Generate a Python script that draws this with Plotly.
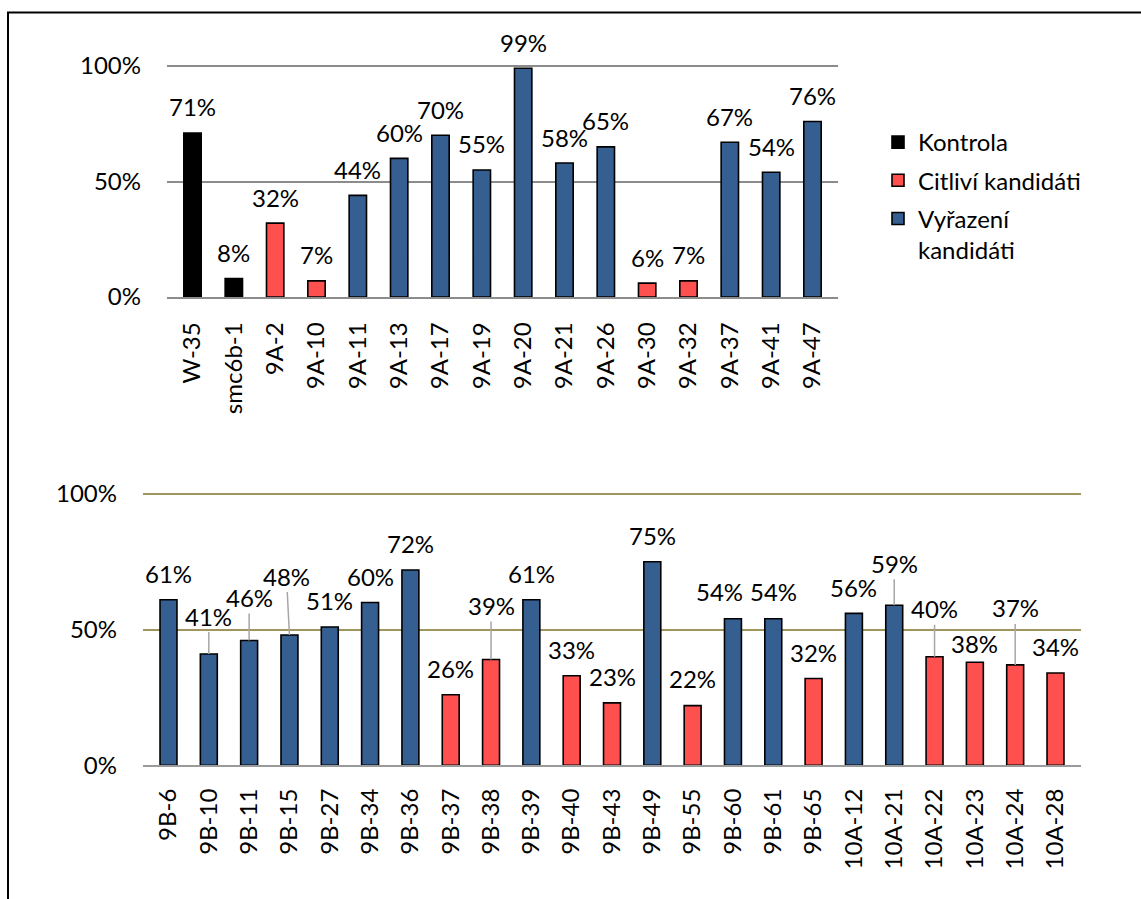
import plotly.graph_objects as go

# ---------------- data ----------------
top_categories = ["W-35", "smc6b-1", "9A-2", "9A-10", "9A-11", "9A-13", "9A-17", "9A-19",
                  "9A-20", "9A-21", "9A-26", "9A-30", "9A-32", "9A-37", "9A-41", "9A-47"]
top_values = [71, 8, 32, 7, 44, 60, 70, 55, 99, 58, 65, 6, 7, 67, 54, 76]
top_groups = ["K", "K", "C", "C", "V", "V", "V", "V", "V", "V", "V", "C", "C", "V", "V", "V"]

bottom_categories = ["9B-6", "9B-10", "9B-11", "9B-15", "9B-27", "9B-34", "9B-36", "9B-37",
                     "9B-38", "9B-39", "9B-40", "9B-43", "9B-49", "9B-55", "9B-60", "9B-61",
                     "9B-65", "10A-12", "10A-21", "10A-22", "10A-23", "10A-24", "10A-28"]
bottom_values = [61, 41, 46, 48, 51, 60, 72, 26, 39, 61, 33, 23, 75, 22, 54, 54, 32, 56, 59,
                 40, 38, 37, 34]
bottom_groups = ["V", "V", "V", "V", "V", "V", "V", "C", "C", "V", "C", "C", "V", "C", "V", "V",
                 "C", "V", "V", "C", "C", "C", "C"]

y_ticks = [0, 0.5, 1]
group_names = {"K": "Kontrola", "C": "Citliví kandidáti", "V": "Vyřazení<br>kandidáti"}

# ---------------- styles ----------------
W, H = 1141, 899
FONT = "Lato, 'Open Sans', sans-serif"
FS = 24
colors = {"K": "#000000", "C": "#FF5050", "V": "#365F91"}
RMAX = 1.02  # small headroom so the 100 % gridline is drawn

# label placement tweaks (pixels above bar top, optional x shift, leader line)
default_off = 26
bottom_label_style = {
    "9B-10": dict(off=38, leader=True),
    "9B-11": dict(off=43, leader=True),
    "9B-15": dict(off=59, leader=True, dx=-3),
    "9B-38": dict(off=54, leader=True),
    "9B-55": dict(off=27),
    "9B-60": dict(off=27, dx=-13),
    "9B-61": dict(off=27),
    "10A-21": dict(off=42, leader=True),
    "10A-22": dict(off=48, leader=True),
    "10A-23": dict(off=19),
    "10A-24": dict(off=57, leader=True),
    "10A-28": dict(off=27),
}


def px_x(p):
    return p / W


def px_y(p):
    return 1 - p / H


def y_domain(px_zero, px_full):
    top_px = px_zero - (px_zero - px_full) * RMAX
    return [px_y(px_zero), px_y(top_px)]


fig = go.Figure()

for key in ["K", "C", "V"]:
    xs = [c for c, g in zip(top_categories, top_groups) if g == key]
    ys = [v / 100 for v, g in zip(top_values, top_groups) if g == key]
    fig.add_trace(go.Bar(x=xs, y=ys, name=group_names[key], legendgroup=key,
                         marker=dict(color=colors[key], line=dict(color="#000000", width=1.6)),
                         xaxis="x", yaxis="y", hoverinfo="skip"))
for key in ["C", "V"]:
    xs = [c for c, g in zip(bottom_categories, bottom_groups) if g == key]
    ys = [v / 100 for v, g in zip(bottom_values, bottom_groups) if g == key]
    fig.add_trace(go.Bar(x=xs, y=ys, name=group_names[key], legendgroup=key, showlegend=False,
                         marker=dict(color=colors[key], line=dict(color="#000000", width=1.6)),
                         xaxis="x2", yaxis="y2", hoverinfo="skip"))

label_font = dict(family=FONT, size=FS, color="#000")
annotations = []
for c, v in zip(top_categories, top_values):
    annotations.append(dict(x=c, y=v / 100, xref="x", yref="y", text=f"{v}%",
                            showarrow=False, yshift=default_off, yanchor="middle",
                            font=label_font))
for c, v in zip(bottom_categories, bottom_values):
    st = bottom_label_style.get(c, {})
    off = st.get("off", default_off)
    dx = st.get("dx", 0)
    if st.get("leader"):
        annotations.append(dict(x=c, y=v / 100, xref="x2", yref="y2", text=f"{v}%",
                                showarrow=True, arrowhead=0, arrowwidth=1.5,
                                arrowcolor="#A6A6A6", ax=dx, ay=-off, standoff=0,
                                startstandoff=0, borderpad=1, font=label_font))
    else:
        annotations.append(dict(x=c, y=v / 100, xref="x2", yref="y2", text=f"{v}%",
                                showarrow=False, yshift=off, xshift=dx, yanchor="middle",
                                font=label_font))

axis_font = dict(family=FONT, size=FS, color="#000")

fig.update_layout(
    width=W, height=H,
    margin=dict(l=0, r=0, t=0, b=0, autoexpand=False),
    paper_bgcolor="white", plot_bgcolor="white",
    barmode="overlay", bargap=0.58,
    font=dict(family=FONT, size=FS, color="#000"),
    showlegend=True,
    legend=dict(x=px_x(878), y=px_y(120), xanchor="left", yanchor="top",
                font=dict(family=FONT, size=FS, color="#000"), valign="top",
                tracegroupgap=4, bgcolor="rgba(0,0,0,0)"),
    xaxis=dict(domain=[px_x(167), px_x(838)], anchor="y", type="category",
               categoryorder="array", categoryarray=top_categories, automargin=False,
               tickangle=-90, tickfont=axis_font, showline=True, linecolor="#8C8C8C",
               linewidth=1.5, ticks="", showgrid=False, ticklabelstandoff=14),
    yaxis=dict(domain=y_domain(297, 66), anchor="x", range=[0, RMAX], automargin=False,
               tickvals=y_ticks, tickformat=".0%", tickfont=axis_font,
               showgrid=True, gridcolor="#8C8C8C", gridwidth=1.5, zeroline=False,
               showline=False, ticks="", ticklabelstandoff=25),
    xaxis2=dict(domain=[px_x(143), px_x(1081)], anchor="y2", type="category",
                categoryorder="array", categoryarray=bottom_categories, automargin=False,
                tickangle=-90, tickfont=axis_font, showline=True, linecolor="#9A9A9A",
                linewidth=1.5, ticks="", showgrid=False, ticklabelstandoff=12),
    yaxis2=dict(domain=y_domain(765.3, 494), anchor="x2", range=[0, RMAX],
                automargin=False,
                tickvals=y_ticks, tickformat=".0%", tickfont=axis_font,
                showgrid=True, gridcolor="#A0955C", gridwidth=1.5, zeroline=False,
                showline=False, ticks="", ticklabelstandoff=25),
    annotations=annotations,
    shapes=[
        dict(type="line", xref="paper", yref="paper", x0=px_x(7), x1=px_x(1141),
             y0=px_y(12.5), y1=px_y(12.5), line=dict(color="#000", width=2)),
        dict(type="line", xref="paper", yref="paper", x0=px_x(8), x1=px_x(8),
             y0=px_y(12), y1=0, line=dict(color="#000", width=2)),
    ],
)

fig.write_html("out.html")
